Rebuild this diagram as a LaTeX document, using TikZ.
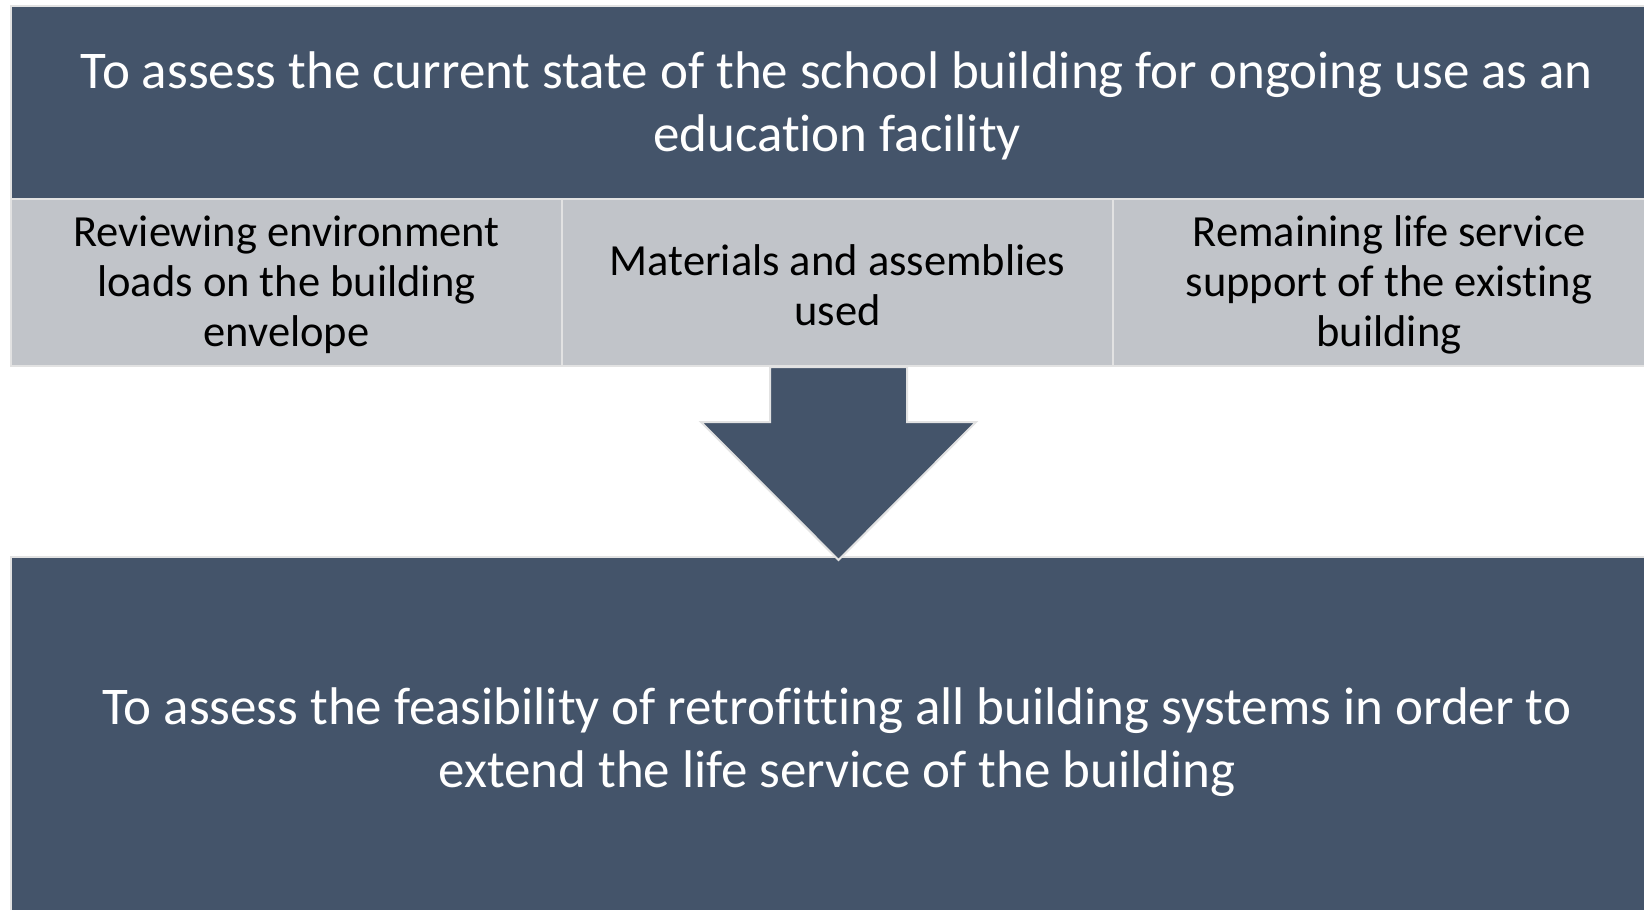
\documentclass[tikz,border=0pt]{standalone}
\usepackage{fontspec}
\setmainfont{Carlito}[Ligatures={NoCommon}]
\definecolor{dk}{HTML}{44546A}
\definecolor{lg}{HTML}{C1C4C9}
\definecolor{edge}{HTML}{E2E2E2}
\tikzset{
  darkbox/.style={fill=dk, draw=edge, line width=2pt},
  greycell/.style={fill=lg, draw=edge, line width=2pt},
  arrowshape/.style={fill=dk, draw=edge, line width=2pt, line join=miter},
  bigtext/.style={text=white, align=center, font=\fontsize{53}{63}\selectfont, inner sep=0pt},
  celltext/.style={text=black, align=center, font=\fontsize{44.5}{50}\selectfont, inner sep=0pt}
}
\begin{document}
\begin{tikzpicture}[x=1pt,y=-1pt]
\clip (0,0) rectangle (1644,910);
\fill[white] (0,0) rectangle (1644,910);
% top box
\draw[darkbox] (11,6) rectangle (1666,199);
\node[bigtext] (goal) at (837,106) {To assess the current state of the school building for ongoing use as an\\education facility};
% grey cells
\draw[greycell] (11,199) rectangle (562,366);
\draw[greycell] (562,199) rectangle (1113,366);
\draw[greycell] (1113,199) rectangle (1666,366);
\node[celltext] (c1) at (286.5,285) {Reviewing environment\\loads on the building\\envelope};
\node[celltext] (c2) at (837.5,285) {Materials and assemblies\\used};
\node[celltext] (c3) at (1389,285) {Remaining life service\\support of the existing\\building};
% bottom box
\draw[darkbox] (11,557) rectangle (1666,930);
\node[bigtext] (result) at (837,742) {To assess the feasibility of retrofitting all building systems in order to\\extend the life service of the building};
% arrow
\coordinate (tip) at (838.5,560);
\draw[arrowshape] (770,367) -- (907,367) -- (907,422) -- (976,422) -- (tip) -- (701,422) -- (770,422) -- cycle;
\end{tikzpicture}
\end{document}
